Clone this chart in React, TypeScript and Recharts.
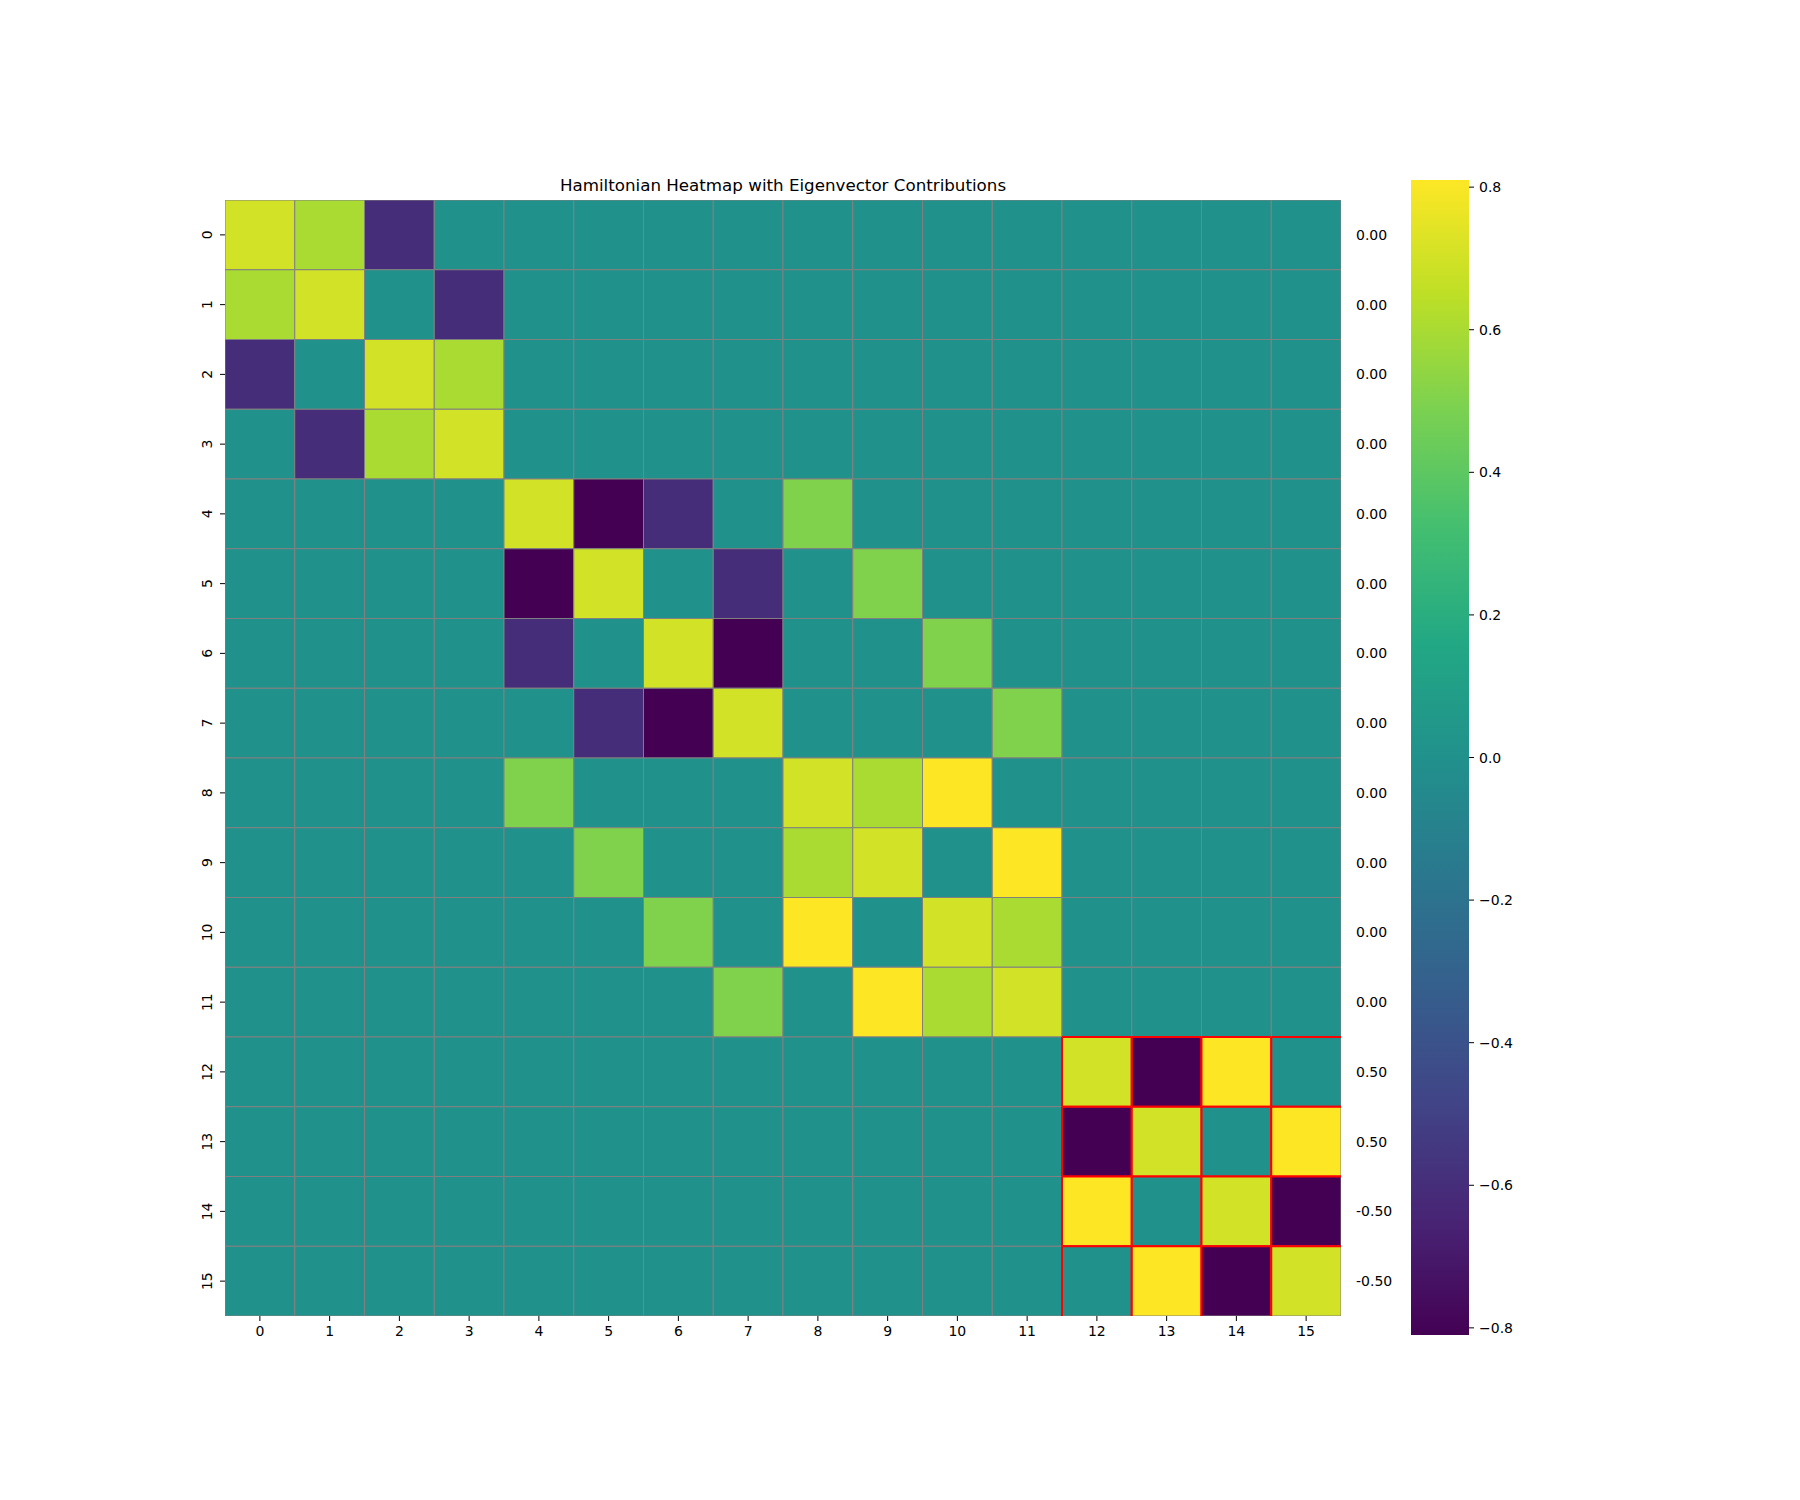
import React from 'react';
import { ScatterChart, Scatter, XAxis, YAxis, BarChart, Bar } from 'recharts';

// row / column indices of the 16x16 matrix
const indices = [0, 1, 2, 3, 4, 5, 6, 7, 8, 9, 10, 11, 12, 13, 14, 15];

// Hamiltonian matrix values
const hamiltonian: number[][] = [
  [0.7, 0.6, -0.6, 0, 0, 0, 0, 0, 0, 0, 0, 0, 0, 0, 0, 0],
  [0.6, 0.7, 0, -0.6, 0, 0, 0, 0, 0, 0, 0, 0, 0, 0, 0, 0],
  [-0.6, 0, 0.7, 0.6, 0, 0, 0, 0, 0, 0, 0, 0, 0, 0, 0, 0],
  [0, -0.6, 0.6, 0.7, 0, 0, 0, 0, 0, 0, 0, 0, 0, 0, 0, 0],
  [0, 0, 0, 0, 0.7, -0.81, -0.6, 0, 0.5, 0, 0, 0, 0, 0, 0, 0],
  [0, 0, 0, 0, -0.81, 0.7, 0, -0.6, 0, 0.5, 0, 0, 0, 0, 0, 0],
  [0, 0, 0, 0, -0.6, 0, 0.7, -0.81, 0, 0, 0.5, 0, 0, 0, 0, 0],
  [0, 0, 0, 0, 0, -0.6, -0.81, 0.7, 0, 0, 0, 0.5, 0, 0, 0, 0],
  [0, 0, 0, 0, 0.5, 0, 0, 0, 0.7, 0.6, 0.81, 0, 0, 0, 0, 0],
  [0, 0, 0, 0, 0, 0.5, 0, 0, 0.6, 0.7, 0, 0.81, 0, 0, 0, 0],
  [0, 0, 0, 0, 0, 0, 0.5, 0, 0.81, 0, 0.7, 0.6, 0, 0, 0, 0],
  [0, 0, 0, 0, 0, 0, 0, 0.5, 0, 0.81, 0.6, 0.7, 0, 0, 0, 0],
  [0, 0, 0, 0, 0, 0, 0, 0, 0, 0, 0, 0, 0.7, -0.81, 0.81, 0],
  [0, 0, 0, 0, 0, 0, 0, 0, 0, 0, 0, 0, -0.81, 0.7, 0, 0.81],
  [0, 0, 0, 0, 0, 0, 0, 0, 0, 0, 0, 0, 0.81, 0, 0.7, -0.81],
  [0, 0, 0, 0, 0, 0, 0, 0, 0, 0, 0, 0, 0, 0.81, -0.81, 0.7],
];

// eigenvector contributions shown on the right
const contributions = [0, 0, 0, 0, 0, 0, 0, 0, 0, 0, 0, 0, 0.5, 0.5, -0.5, -0.5];

// rows/cols of the highlighted (red bordered) block
const highlighted = [12, 13, 14, 15];

const colorbarTicks = [-0.8, -0.6, -0.4, -0.2, 0, 0.2, 0.4, 0.6, 0.8];

const VMIN = -0.81;
const VMAX = 0.81;

const VIRIDIS = [
  '#440154', '#482475', '#414487', '#355f8d', '#2a788e', '#21918c',
  '#22a884', '#44bf70', '#7ad151', '#bddf26', '#fde725',
];

const hexToRgb = (h: string) => [
  parseInt(h.slice(1, 3), 16),
  parseInt(h.slice(3, 5), 16),
  parseInt(h.slice(5, 7), 16),
];

const viridis = (v: number) => {
  let t = (v - VMIN) / (VMAX - VMIN);
  t = Math.max(0, Math.min(1, t));
  const pos = t * (VIRIDIS.length - 1);
  const i = Math.min(Math.floor(pos), VIRIDIS.length - 2);
  const f = pos - i;
  const a = hexToRgb(VIRIDIS[i]);
  const b = hexToRgb(VIRIDIS[i + 1]);
  const c = a.map((av, k) => Math.round(av + (b[k] - av) * f));
  return `rgb(${c[0]},${c[1]},${c[2]})`;
};

const FONT = 'DejaVu Sans, sans-serif';
const PLOT_W = 1116;
const N = indices.length;
const CELL = PLOT_W / N;

type CellDatum = { row: number; col: number; value: number; hl: boolean };

const allCells: CellDatum[] = [];
hamiltonian.forEach((r, ri) =>
  r.forEach((value, ci) =>
    allCells.push({
      row: ri,
      col: ci,
      value,
      hl: highlighted.includes(ri) && highlighted.includes(ci),
    })
  )
);
const normalCells = allCells.filter((c) => !c.hl);
const redCells = allCells.filter((c) => c.hl);

const CellShape = (props: any) => {
  const { cx, cy, payload } = props;
  if (cx == null || cy == null) return null;
  const x0 = cx - CELL / 2;
  const y0 = cy - CELL / 2;
  const x1 = cx + CELL / 2;
  const y1 = cy + CELL / 2;
  let red = '';
  if (payload.hl) {
    // red outline, except on the outer right/bottom frame of the heatmap
    red = `M${x0},${y0}H${x1}M${x0},${y0}V${y1}`;
    if (payload.col < N - 1) red += `M${x1},${y0}V${y1}`;
    if (payload.row < N - 1) red += `M${x0},${y1}H${x1}`;
  }
  return (
    <g>
      <rect x={x0} y={y0} width={CELL} height={CELL} fill={viridis(payload.value)} stroke="#808080" strokeWidth={1} />
      {red && <path d={red} stroke="#ff0000" strokeWidth={2} fill="none" />}
    </g>
  );
};

const XTick = ({ x, y, payload }: any) => (
  <text x={x} y={y} dy="0.71em" textAnchor="middle" fontSize={14} fontFamily={FONT} fill="#000">
    {payload.value}
  </text>
);

const YTick = ({ x, y, payload }: any) => {
  const cx = x - 11;
  return (
    <text
      x={cx}
      y={y}
      transform={`rotate(-90, ${cx}, ${y})`}
      textAnchor="middle"
      dominantBaseline="central"
      fontSize={14}
      fontFamily={FONT}
      fill="#000"
    >
      {payload.value}
    </text>
  );
};

const RightTick = ({ x, y, payload }: any) => (
  <text x={x} y={y} textAnchor="start" dominantBaseline="central" fontSize={14} fontFamily={FONT} fill="#000">
    {contributions[payload.value].toFixed(2)}
  </text>
);

const CbTick = ({ x, y, payload }: any) => (
  <text x={x} y={y} textAnchor="start" dominantBaseline="central" fontSize={14} fontFamily={FONT} fill="#000">
    {payload.value.toFixed(1).replace('-', '\u2212')}
  </text>
);

const colorbarData = [{ name: 'cb', range: [VMIN, VMAX] }];

const App: React.FC = () => {
  return (
    <div style={{ position: 'relative', width: 1800, height: 1500, background: '#fff' }}>
      <style>{'body{margin:0}'}</style>
      <div style={{ position: 'absolute', left: 0, top: 0 }}>
        <ScatterChart width={1800} height={1500} margin={{ top: 200, right: 399, bottom: 144, left: 165 }}>
          <text x={783} y={191} textAnchor="middle" fontSize={16.7} fontFamily={FONT} fill="#000">
            Hamiltonian Heatmap with Eigenvector Contributions
          </text>
          <XAxis
            type="number"
            dataKey="col"
            domain={[-0.5, 15.5]}
            ticks={indices}
            interval={0}
            height={40}
            axisLine={false}
            tickSize={5}
            tickMargin={5}
            tickLine={{ stroke: '#000' }}
            tick={<XTick />}
            allowDataOverflow
          />
          <YAxis
            type="number"
            dataKey="row"
            domain={[-0.5, 15.5]}
            reversed
            ticks={indices}
            interval={0}
            width={60}
            axisLine={false}
            tickSize={5}
            tickMargin={2}
            tickLine={{ stroke: '#000' }}
            tick={<YTick />}
            allowDataOverflow
          />
          <YAxis
            yAxisId="right"
            orientation="right"
            type="number"
            domain={[-0.5, 15.5]}
            reversed
            ticks={indices}
            interval={0}
            width={60}
            axisLine={false}
            tickLine={false}
            tickSize={6}
            tickMargin={9}
            tick={<RightTick />}
            allowDataOverflow
          />
          <Scatter data={normalCells} shape={<CellShape />} isAnimationActive={false} />
          <Scatter data={redCells} shape={<CellShape />} isAnimationActive={false} />
        </ScatterChart>
      </div>
      <div style={{ position: 'absolute', left: 1411, top: 170 }}>
        <BarChart
          width={118}
          height={1175}
          data={colorbarData}
          margin={{ top: 10, right: 0, bottom: 10, left: 0 }}
          barCategoryGap={0}
        >
          <defs>
            <linearGradient id="viridisGrad" x1="0" y1="1" x2="0" y2="0">
              {VIRIDIS.map((c, i) => (
                <stop key={i} offset={i / (VIRIDIS.length - 1)} stopColor={c} />
              ))}
            </linearGradient>
          </defs>
          <XAxis dataKey="name" hide />
          <YAxis
            orientation="right"
            type="number"
            domain={[VMIN, VMAX]}
            ticks={colorbarTicks}
            interval={0}
            width={60}
            axisLine={false}
            tickSize={5}
            tickMargin={5}
            tickLine={{ stroke: '#000' }}
            tick={<CbTick />}
            allowDataOverflow
          />
          <Bar dataKey="range" fill="url(#viridisGrad)" isAnimationActive={false} />
        </BarChart>
      </div>
    </div>
  );
};

export default App;
